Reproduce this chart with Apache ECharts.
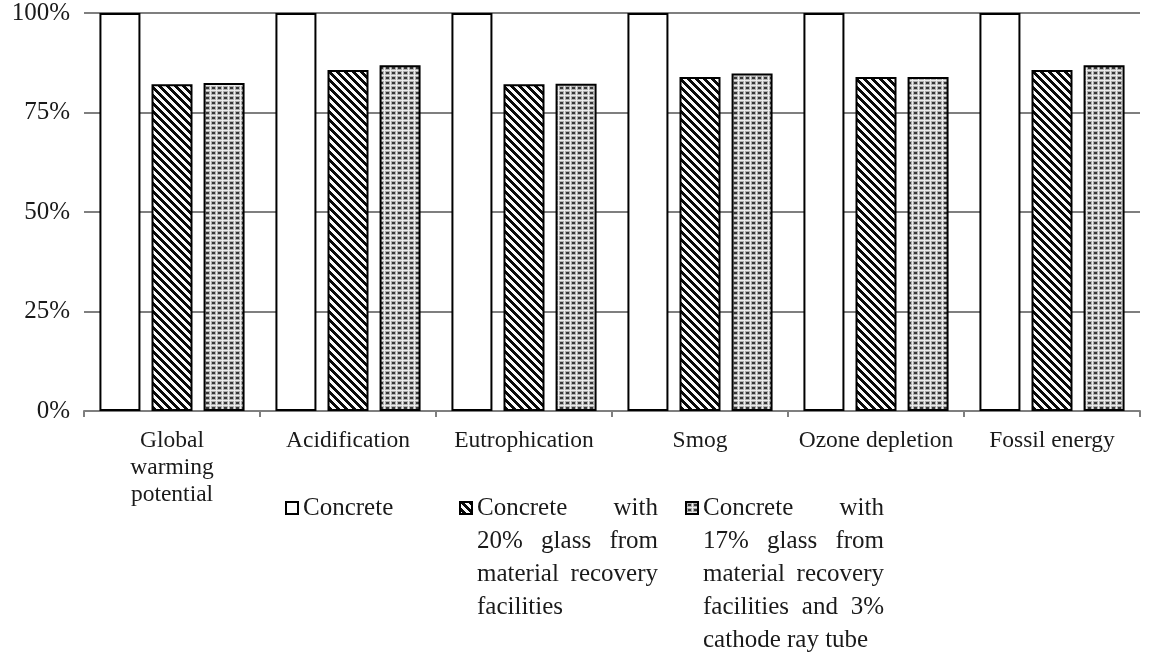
<!DOCTYPE html>
<html>
<head>
<meta charset="utf-8">
<script src="https://cdn.jsdelivr.net/npm/echarts@6/dist/echarts.min.js"></script>
<style>
  html, body { margin: 0; padding: 0; background: #fff; }
  #chart { width: 1149px; height: 652px; }
</style>
</head>
<body>
<div id="chart"></div>
<script>
// Impact categories along the x axis
const categories = ['Global\nwarming\npotential', 'Acidification', 'Eutrophication', 'Smog', 'Ozone depletion', 'Fossil energy'];

// Relative impact (%) of each mix, normalised to plain concrete
const concrete = [100, 100, 100, 100, 100, 100];
const glass20 = [82.1, 85.7, 82.1, 83.9, 83.9, 85.7];
const glass17crt3 = [82.4, 86.9, 82.2, 84.8, 83.9, 86.9];

// Series names and how each legend entry wraps
const seriesNames = [
  'Concrete',
  'Concrete with 20% glass from material recovery facilities',
  'Concrete with 17% glass from material recovery facilities and 3% cathode ray tube'
];
const legendLines = [
  ['Concrete'],
  ['Concrete with', '20% glass from', 'material recovery', 'facilities'],
  ['Concrete with', '17% glass from', 'material recovery', 'facilities and 3%', 'cathode ray tube']
];

// Y axis ticks (%)
const yMin = 0, yMax = 100, yStep = 25;

const FONT = '"Liberation Serif", "Times New Roman", serif';
const TEXT_COLOR = '#1a1a1a';
const GRID_COLOR = '#7f7f7f';

// Fill patterns built pixel by pixel on small canvases
function makeTile(w, h, pick) {
  const c = document.createElement('canvas');
  c.width = w; c.height = h;
  const g = c.getContext('2d');
  const img = g.createImageData(w, h);
  for (let y = 0; y < h; y++) {
    for (let x = 0; x < w; x++) {
      const v = pick(x, y);
      const o = (y * w + x) * 4;
      img.data[o] = img.data[o + 1] = img.data[o + 2] = v;
      img.data[o + 3] = 255;
    }
  }
  g.putImageData(img, 0, 0);
  return c;
}
// black stripes running from top-left to bottom-right
const diagonalTile = makeTile(8, 8, (x, y) => {
  const d = ((x - y) % 8 + 8) % 8;
  return d < 4 ? 10 : 250;
});
// dark dots on a grey mesh
const dottedTile = makeTile(6, 5, (x, y) => {
  if (x === 0 || y === 0) return 235;
  if (x >= 2 && x <= 4 && y >= 2 && y <= 3) return 55;
  return 175;
});

// Justified legend text: every line but the last is spread to the block width
const LEGEND_SIZE = 25;
const LEGEND_LH = 33;
const BLOCK_W = 181;
const measureCtx = document.createElement('canvas').getContext('2d');
measureCtx.font = LEGEND_SIZE + 'px ' + FONT;
const legendRich = {};
let gapCount = 0;
function justify(lines) {
  if (lines.length === 1) return lines[0];
  return lines.map((line, i) => {
    const words = line.split(' ');
    if (i === lines.length - 1 || words.length < 2) return line;
    const wordsW = words.reduce((s, w) => s + measureCtx.measureText(w).width, 0);
    const gap = Math.max(4, (BLOCK_W - wordsW) / (words.length - 1));
    const key = 'g' + (gapCount++);
    legendRich[key] = { width: gap, fontSize: LEGEND_SIZE, fontFamily: FONT, lineHeight: LEGEND_LH };
    return words.join('{' + key + '| }');
  }).join('\n');
}
const legendText = {};
seriesNames.forEach((n, i) => { legendText[n] = justify(legendLines[i]); });

const FIRST_LINE_Y = 508;
const legendLeft = [285, 459, 685];
const legends = seriesNames.map((n, i) => {
  const count = legendLines[i].length;
  return {
    data: [n],
    left: legendLeft[i],
    top: FIRST_LINE_Y - (2 * count - 1) * LEGEND_LH / 2,
    padding: 0,
    icon: 'rect',
    itemWidth: 12,
    itemHeight: 12,
    itemGap: 0,
    selectedMode: false,
    formatter: name => legendText[name],
    textStyle: {
      fontFamily: FONT,
      fontSize: LEGEND_SIZE,
      lineHeight: LEGEND_LH,
      color: TEXT_COLOR,
      // pushes the text block down so the icon sits beside the first line
      padding: [(count - 1) * LEGEND_LH, 0, 0, 0],
      rich: legendRich
    }
  };
});

const barStyle = fill => ({ color: fill, borderColor: '#000', borderWidth: 2 });

const chart = echarts.init(document.getElementById('chart'), null, { renderer: 'canvas' });
chart.setOption({
  animation: false,
  backgroundColor: '#fff',
  grid: { left: 84, right: 9, top: 13, bottom: 241, containLabel: false },
  legend: legends,
  xAxis: {
    type: 'category',
    data: categories,
    axisLine: { show: true, lineStyle: { color: GRID_COLOR, width: 2 } },
    axisTick: { show: true, alignWithLabel: false, interval: 0, length: 6, lineStyle: { color: GRID_COLOR, width: 2 } },
    axisLabel: {
      interval: 0,
      margin: 16,
      fontFamily: FONT,
      fontSize: 23.5,
      lineHeight: 27,
      color: TEXT_COLOR,
      align: 'center'
    }
  },
  yAxis: {
    type: 'value',
    min: yMin,
    max: yMax,
    interval: yStep,
    axisLine: { show: false },
    axisTick: { show: false },
    splitLine: { show: true, lineStyle: { color: GRID_COLOR, width: 2 } },
    axisLabel: {
      margin: 14,
      fontFamily: FONT,
      fontSize: 25,
      color: TEXT_COLOR,
      formatter: v => v + '%'
    }
  },
  series: [
    { name: seriesNames[0], type: 'bar', data: concrete, barWidth: 41, barGap: '27%', itemStyle: barStyle('#ffffff') },
    { name: seriesNames[1], type: 'bar', data: glass20, barWidth: 41, barGap: '27%', itemStyle: barStyle({ image: diagonalTile, repeat: 'repeat' }) },
    { name: seriesNames[2], type: 'bar', data: glass17crt3, barWidth: 41, barGap: '27%', itemStyle: barStyle({ image: dottedTile, repeat: 'repeat' }) }
  ]
});
</script>
</body>
</html>
